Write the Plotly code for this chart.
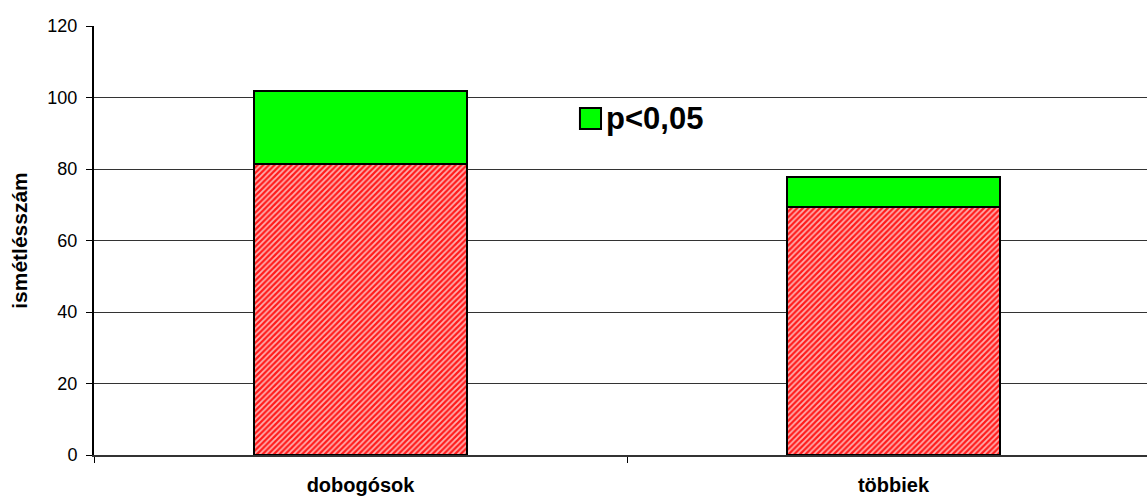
import plotly.graph_objects as go

categories = ["dobogósok", "többiek"]
base_values = [81.5, 69.3]          # lower (hatched red) segment
extra_values = [20.2, 8.4]          # upper green segment, p<0,05
legend_label = "p<0,05"
y_ticks = [0, 20, 40, 60, 80, 100, 120]

GREEN = "#00ff00"
FONT = "Liberation Sans, Arial, sans-serif"

fig = go.Figure()

fig.add_trace(go.Bar(
    x=categories, y=base_values, showlegend=False,
    marker=dict(
        color="#ff0000",
        line=dict(color="black", width=2),
        pattern=dict(shape="/", bgcolor="#ff1a1a", fgcolor="#ffb0b0",
                     size=4, solidity=0.45, fillmode="replace"),
    ),
    hoverinfo="skip",
))
fig.add_trace(go.Bar(
    x=categories, y=extra_values, name=legend_label, showlegend=False,
    marker=dict(color=GREEN, line=dict(color="black", width=2)),
    hoverinfo="skip",
))

# legend key drawn by hand so the swatch can be large
fig.add_shape(type="rect", xref="paper", yref="paper",
              x0=0.4615, x1=0.4815, y0=0.7599, y1=0.8089,
              fillcolor=GREEN, line=dict(color="black", width=2))
fig.add_annotation(xref="paper", yref="paper", x=0.4843, y=0.7844,
                   xanchor="left", yanchor="middle", showarrow=False,
                   text=legend_label,
                   font=dict(size=31, family=FONT, weight="bold", color="black"))

fig.update_layout(
    barmode="stack",
    bargap=0.6,
    width=1147, height=496,
    margin=dict(l=94, r=0, t=26, b=41),
    paper_bgcolor="white", plot_bgcolor="white",
    font=dict(family=FONT, color="black"),
    showlegend=False,
)

fig.update_yaxes(
    range=[0, 120], tickvals=y_ticks,
    showgrid=True, gridcolor="#333333", gridwidth=1,
    showline=True, linecolor="black", linewidth=2,
    ticks="outside", ticklen=6, tickcolor="black",
    tickfont=dict(size=18), ticklabelstandoff=5, zeroline=False,
    title=dict(text="ismétlésszám", font=dict(size=21, weight="bold"), standoff=14),
)

fig.update_xaxes(
    type="category",
    range=[-0.5, -0.5 + 2 * 1053 / 1066],
    tickson="boundaries",
    showline=True, linecolor="#333333", linewidth=2,
    ticks="outside", ticklen=6, tickcolor="black",
    tickfont=dict(size=20, weight="bold"), ticklabelstandoff=11,
    showgrid=False,
)

fig.write_html("out.html")
